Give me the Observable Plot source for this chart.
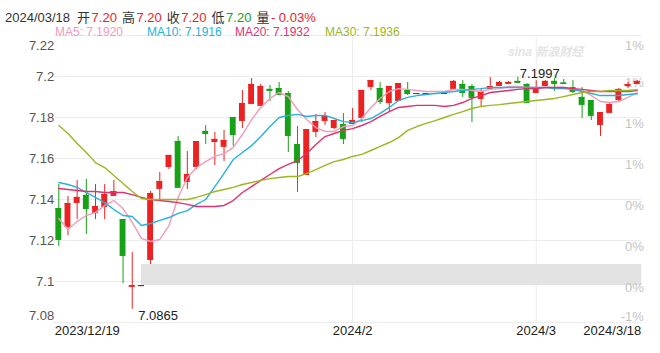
<!DOCTYPE html>
<html><head><meta charset="utf-8">
<script src="https://cdn.jsdelivr.net/npm/d3@7"></script>
<script src="https://cdn.jsdelivr.net/npm/@observablehq/plot@0.6"></script>
<style>
body{margin:0;background:#fff;font-family:"Liberation Sans",Arial,"Noto Sans CJK SC",sans-serif;}
#wrap{position:relative;width:660px;height:353px;overflow:hidden;background:#fff}
#chart{position:absolute;left:0;top:0}
#hdr{position:absolute;left:5px;top:7px;font-size:13px;color:#333;white-space:pre}
#hdr .k{margin-left:5px}
#hdr .v{margin-left:1.5px}
.ma{position:absolute;top:25px;font-size:12px;white-space:pre}
#wm{position:absolute;left:508px;top:46px;font-size:12px;line-height:13px;color:#e4e4e4;font-style:italic;font-weight:bold;white-space:pre}
</style></head><body>
<div id="wrap"><div id="chart"></div><div id="hdr"></div><div id="wm">sina 新浪财经</div></div>
<script>
// ---- data ----
const opens = [7.1356,7.1268,7.1385,7.1420,7.1337,7.1366,7.1420,7.1302,7.0975,7.0980,
7.1107,7.1454,7.1561,7.1683,7.1488,7.1561,7.1732,7.1683,7.1659,7.1800,
7.1785,7.1868,7.1859,7.1937,7.1941,7.1917,7.1668,7.1522,7.1732,7.1785,
7.1751,7.1766,7.1771,7.1800,7.1951,7.1941,7.1873,7.1883,7.1932,7.1917,
7.1917,7.1917,7.1917,7.1941,7.1961,7.1951,7.1893,7.1941,7.1956,7.1966,
7.1976,7.1961,7.1922,7.1956,7.1976,7.1968,7.1946,7.1898,7.1883,7.1766,
7.1824,7.1888,7.1956,7.1966];
const highs = [7.1473,7.1415,7.1493,7.1498,7.1473,7.1473,7.1493,7.1302,7.1141,7.0980,
7.1439,7.1532,7.1615,7.1707,7.1634,7.1683,7.1761,7.1727,7.1737,7.1800,
7.1932,7.1990,7.1961,7.1956,7.1971,7.1927,7.1756,7.1741,7.1815,7.1824,
7.1785,7.1819,7.1844,7.1932,7.1980,7.1971,7.1951,7.1966,7.1971,7.1917,
7.1917,7.1917,7.1917,7.1980,7.1980,7.1961,7.1941,7.1995,7.1976,7.1976,
7.1997,7.1966,7.1980,7.1980,7.1990,7.1985,7.1980,7.1946,7.1883,7.1824,
7.1873,7.1941,7.1971,7.1980];
const lows = [7.1171,7.1224,7.1302,7.1229,7.1302,7.1302,7.1415,7.0990,7.0865,7.0980,
7.1083,7.1400,7.1546,7.1454,7.1449,7.1546,7.1668,7.1566,7.1585,7.1659,
7.1746,7.1868,7.1854,7.1878,7.1912,7.1629,7.1434,7.1517,7.1702,7.1761,
7.1741,7.1668,7.1766,7.1776,7.1932,7.1863,7.1824,7.1878,7.1907,7.1917,
7.1917,7.1917,7.1917,7.1937,7.1898,7.1776,7.1854,7.1941,7.1951,7.1961,
7.1971,7.1873,7.1917,7.1951,7.1927,7.1961,7.1917,7.1795,7.1785,7.1707,
7.1824,7.1878,7.1941,7.1961];
const closes = [7.1205,7.1380,7.1410,7.1356,7.1366,7.1424,7.1439,7.1127,7.0980,7.0980,
7.1429,7.1488,7.1615,7.1459,7.1522,7.1683,7.1722,7.1693,7.1688,7.1717,
7.1868,7.1961,7.1951,7.1932,7.1912,7.1712,7.1580,7.1741,7.1780,7.1805,
7.1785,7.1697,7.1785,7.1932,7.1980,7.1878,7.1951,7.1966,7.1917,7.1917,
7.1917,7.1917,7.1917,7.1976,7.1922,7.1898,7.1927,7.1951,7.1971,7.1971,
7.1971,7.1873,7.1946,7.1976,7.1966,7.1966,7.1927,7.1863,7.1810,7.1824,
7.1863,7.1937,7.1961,7.1976];
const ma5 = [7.1307,7.1254,7.1293,7.1322,7.1337,7.1371,7.1395,7.1356,7.1288,7.1210,
7.1195,7.1205,7.1273,7.1410,7.1507,7.1556,7.1585,7.1610,7.1624,7.1654,
7.1717,7.1790,7.1849,7.1893,7.1922,7.1902,7.1839,7.1790,7.1751,7.1732,
7.1732,7.1756,7.1761,7.1795,7.1849,7.1893,7.1927,7.1941,7.1937,7.1932,
7.1927,7.1927,7.1927,7.1937,7.1937,7.1932,7.1927,7.1937,7.1941,7.1951,
7.1951,7.1946,7.1946,7.1946,7.1946,7.1946,7.1941,7.1932,7.1907,7.1878,
7.1873,7.1878,7.1898,7.1920];
const ma10 = [7.1483,7.1473,7.1459,7.1434,7.1410,7.1385,7.1351,7.1322,7.1317,7.1273,
7.1283,7.1298,7.1312,7.1332,7.1346,7.1376,7.1400,7.1463,7.1527,7.1595,
7.1629,7.1663,7.1707,7.1756,7.1800,7.1810,7.1815,7.1805,7.1810,7.1810,
7.1795,7.1780,7.1776,7.1785,7.1795,7.1820,7.1849,7.1883,7.1898,7.1907,
7.1912,7.1917,7.1922,7.1927,7.1932,7.1937,7.1941,7.1946,7.1946,7.1946,
7.1946,7.1946,7.1946,7.1946,7.1941,7.1941,7.1937,7.1927,7.1917,7.1907,
7.1907,7.1907,7.1912,7.1916];
const ma20 = [7.1454,7.1449,7.1444,7.1439,7.1439,7.1434,7.1434,7.1434,7.1424,7.1410,
7.1400,7.1395,7.1390,7.1385,7.1376,7.1366,7.1366,7.1366,7.1371,7.1395,
7.1434,7.1463,7.1493,7.1522,7.1551,7.1571,7.1590,7.1624,7.1668,7.1707,
7.1722,7.1737,7.1746,7.1761,7.1780,7.1805,7.1829,7.1849,7.1854,7.1859,
7.1859,7.1859,7.1854,7.1859,7.1873,7.1893,7.1907,7.1922,7.1927,7.1932,
7.1937,7.1941,7.1941,7.1946,7.1946,7.1946,7.1941,7.1937,7.1932,7.1927,
7.1927,7.1927,7.1927,7.1932];
const ma30 = [7.1761,7.1722,7.1673,7.1629,7.1580,7.1556,7.1517,7.1478,7.1439,7.1405,
7.1400,7.1400,7.1400,7.1400,7.1400,7.1410,7.1424,7.1439,7.1449,7.1459,
7.1473,7.1483,7.1493,7.1502,7.1507,7.1512,7.1512,7.1527,7.1546,7.1566,
7.1585,7.1595,7.1610,7.1620,7.1639,7.1659,7.1678,7.1702,7.1737,7.1756,
7.1771,7.1785,7.1800,7.1815,7.1829,7.1844,7.1854,7.1859,7.1863,7.1868,
7.1873,7.1878,7.1883,7.1888,7.1893,7.1902,7.1912,7.1922,7.1927,7.1927,
7.1932,7.1932,7.1932,7.1936];
const maNames = ["MA5","MA10","MA20","MA30"];
const maLast = ["7.1920","7.1916","7.1932","7.1936"];
const maColors = ["#f29bb9","#27b1dc","#e2306e","#9fb520"];
const maLegendX = [55,147,235,325];
const xTickIdx = [0, 32, 52, 63];
const xTickLabels = ["2023/12/19","2024/2","2024/3","2024/3/18"];
const yTicks = [7.22,7.2,7.18,7.16,7.14,7.12,7.1,7.08];
const yTickLabels = ["7.22","7.2","7.18","7.16","7.14","7.12","7.1","7.08"];
const pctLabels = ["1%","1%","1%","1%","0%","0%","0%","-1%"];
const gap = {from: 9, low: 7.0980, high: 7.1083};
const extremes = {hiIdx: 50, hi: "7.1997", loIdx: 8, lo: "7.0865"};
const header = {date: "2024/03/18", fields: [["开","7.20","up"],["高","7.20","up"],["收","7.20","up"],["低","7.20","down"]], volLabel: "量", change: "- 0.03%"};

// ---- colours ----
const RED = "#ec2222", GREEN = "#17a117", FLAT = "#444";

// header
const hdr = document.getElementById("hdr");
let h = `<span style="margin-right:2px">${header.date}</span>`;
for (const [k,v,dir] of header.fields) h += `<span class="k">${k}</span><span class="v" style="color:${dir==="up"?RED:GREEN}">${v}</span>`;
h += `<span class="k">${header.volLabel}</span><span class="v" style="color:${RED}">${header.change}</span>`;
hdr.innerHTML = h;
const wrap = document.getElementById("wrap");
maNames.forEach((n,k)=>{
  const d = document.createElement("div");
  d.className = "ma"; d.style.left = maLegendX[k]+"px"; d.style.color = maColors[k];
  d.textContent = `${n}: ${maLast[k]}`;
  wrap.appendChild(d);
});

// ---- chart ----
const n = opens.length;
const candles = d3.range(n).map(i => ({i, o: opens[i], h: highs[i], l: lows[i], c: closes[i]}));
const col = d => d.c > d.o ? RED : d.c < d.o ? GREEN : FLAT;
const hw = 0.32;
const yt = yTicks.map((v,k)=>({v, label: yTickLabels[k], pct: pctLabels[k]}));
const xt = xTickIdx.map((i,k)=>({i, label: xTickLabels[k]}));
const maSeries = [ma5, ma10, ma20, ma30];
const font = {fontFamily: '"Liberation Sans", Arial, sans-serif'};

const plot = Plot.plot({
  width: 660, height: 353,
  marginLeft: 53.7, marginRight: 18.7, marginTop: 35, marginBottom: 31,
  x: {domain: [-0.5, n - 0.5], axis: null},
  y: {domain: [7.08, 7.22], axis: null},
  style: {...font, fontSize: "13px", background: "transparent", overflow: "visible"},
  marks: [
    Plot.ruleY(yt, {y: "v", stroke: "#ececec"}),
    Plot.ruleX(xt.slice(1, 3), {x: "i", stroke: "#ececec"}),
    Plot.rect([gap], {x1: d => d.from, x2: n - 0.5, y1: "low", y2: "high", fill: "#e3e3e3"}),
    // y labels (left)
    Plot.text(yt.slice(0,1), {y: "v", text: "label", frameAnchor: "left", textAnchor: "end", dx: 0, dy: 10, fill: "#555"}),
    Plot.text(yt.slice(1,7), {y: "v", text: "label", frameAnchor: "left", textAnchor: "end", dx: 0, dy: 0, fill: "#555"}),
    Plot.text(yt.slice(7), {y: "v", text: "label", frameAnchor: "left", textAnchor: "end", dx: 0, dy: -7, fill: "#555"}),
    // percent labels (right)
    Plot.text(yt.slice(0,1), {y: "v", text: "pct", frameAnchor: "right", textAnchor: "end", dx: 2, dy: 10, fill: "#c4c4c4"}),
    Plot.text(yt.slice(1,7), {y: "v", text: "pct", frameAnchor: "right", textAnchor: "end", dx: 2, dy: 6.5, fill: "#c4c4c4"}),
    Plot.text(yt.slice(7), {y: "v", text: "pct", frameAnchor: "right", textAnchor: "end", dx: 2, dy: -6, fill: "#c4c4c4"}),
    // x labels
    Plot.text(xt.slice(0,1), {x: "i", text: "label", frameAnchor: "bottom", textAnchor: "start", dx: -4, dy: 12, fill: "#222"}),
    Plot.text(xt.slice(1,3), {x: "i", text: "label", frameAnchor: "bottom", textAnchor: "middle", dx: 0, dy: 12, fill: "#222"}),
    Plot.text(xt.slice(3), {x: "i", text: "label", frameAnchor: "bottom", textAnchor: "end", dx: 4, dy: 12, fill: "#222"}),
    // candles
    Plot.ruleX(candles, {x: "i", y1: "l", y2: "h", stroke: col, strokeWidth: 1}),
    Plot.rect(candles, {x1: d => d.i - hw, x2: d => d.i + hw, y1: d => Math.min(d.o, d.c), y2: d => Math.max(d.o, d.c), fill: col}),
    Plot.ruleY(candles, {y: "c", x1: d => d.i - hw, x2: d => d.i + hw, stroke: col}),
    Plot.ruleY(candles, {y: "o", x1: d => d.i - hw, x2: d => d.i + hw, stroke: col}),
    // moving averages
    ...maSeries.map((s, k) => Plot.line(s, {x: (d, i) => i, y: d => d, stroke: maColors[k], strokeWidth: 1.4})),
    // extremes
    Plot.text([extremes], {x: "hiIdx", y: d => highs[d.hiIdx], text: "hi", textAnchor: "start", lineAnchor: "bottom", dx: 2, dy: 1, fill: "#222"}),
    Plot.text([extremes], {x: "loIdx", y: d => lows[d.loIdx], text: "lo", textAnchor: "start", lineAnchor: "top", dx: 6, dy: 2, fill: "#222"})
  ]
});
document.getElementById("chart").appendChild(plot);
</script>
</body></html>
